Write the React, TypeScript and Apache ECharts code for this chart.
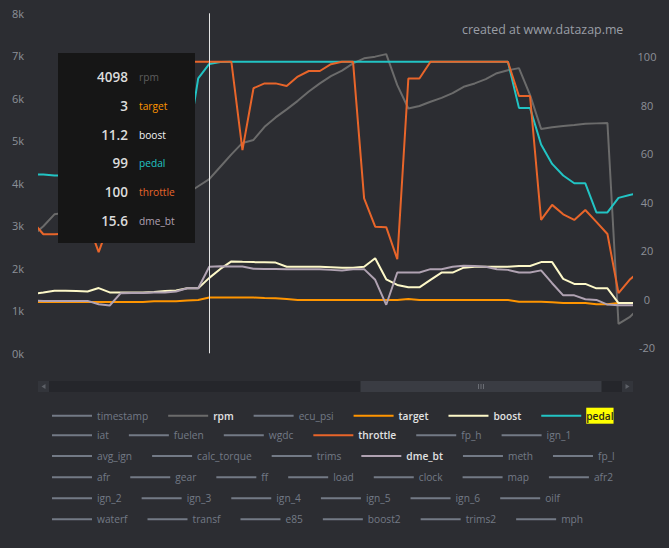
import React, { useEffect, useRef } from "react";
import * as echarts from "echarts";

// ---------- data ----------
const sampleIndex = [
  0, 1, 2, 3, 4, 5, 6, 7, 8, 9, 10, 11, 12, 13, 14, 15, 16, 17, 18, 19,
  20, 21, 22, 23, 24, 25, 26, 27, 28, 29, 30, 31, 32, 33, 34, 35, 36, 37, 38, 39,
  40, 41, 42, 43, 44, 45, 46, 47, 48, 49, 50, 51, 52, 53, 54, 55,
];

const rpm = [
  2765, 2990, 3270, 3310, 3370, 3400, 3450, 3480, 3530, 3570, 3600, 3640, 3690, 3720, 3760, 3930,
  4098, 4390, 4680, 4950, 5020, 5330, 5550, 5740, 5940, 6160, 6350, 6520, 6650, 6820, 6940, 6980,
  7040, 6310, 5760, 5820, 5920, 6010, 6120, 6270, 6350, 6450, 6590, 6660, 6710, 6080, 5280, 5320,
  5350, 5370, 5400, 5410, 5420, 690, 850, 1100,
];

const target = [
  -1.1, -1.1, -1.1, -1.1, -1.1, -1.1, -1.1, -1.1, -1.1, -1.1, -1.1, -0.8, -0.8, -0.8, -0.5, -0.3,
  0.7, 0.7, 0.7, 0.7, 0.7, 0.5, 0.4, 0.1, -0.3, -0.3, -0.3, -0.3, -0.3, -0.3, -0.3, -0.3,
  -0.3, -0.3, 0.1, -0.3, -0.3, -0.3, -0.3, -0.3, -0.3, -0.3, -0.3, -0.3, -1.0, -1.0, -1.0, -1.3,
  -1.6, -1.6, -1.6, -2.1, -2.1, -1.6, -1.6, -1.6,
];

const boost = [
  2.2, 2.8, 3.5, 3.5, 3.4, 3.2, 4.6, 2.8, 2.8, 2.8, 2.8, 3.0, 3.4, 3.6, 4.5, 4.5,
  8.8, 12.5, 15.6, 15.4, 15.3, 15.2, 15.1, 13.4, 13.4, 13.4, 13.4, 13.2, 13.0, 13.0, 13.4, 16.9,
  8.2, 5.9, 4.9, 4.9, 8.0, 11.0, 11.0, 13.0, 13.4, 13.4, 13.4, 13.4, 13.7, 13.7, 15.3, 15.3,
  8.4, 6.3, 6.3, 4.5, 4.5, -1.6, -1.6, -1.6,
];

const pedal = [
  51.5, 51.4, 51.0, 51.0, 51.2, 51.0, 51.1, 51.5, 52.0, 52.5, 53.0, 54.0, 56.0, 58.0, 62.5, 91.1,
  97.0, 97.8, 97.9, 97.9, 97.9, 97.9, 97.9, 97.9, 97.9, 97.9, 97.9, 97.9, 97.9, 97.9, 97.9, 97.9,
  97.9, 97.9, 97.9, 97.9, 97.9, 97.9, 97.9, 97.9, 97.9, 97.9, 97.9, 97.9, 78.9, 78.9, 63.8, 55.8,
  51.0, 47.8, 47.8, 35.8, 35.8, 41.8, 43.0, 43.8,
];

const throttle = [
  32.0, 26.8, 26.8, 27.0, 28.0, 32.0, 19.4, 32.0, 58.0, 85.0, 97.9, 97.9, 97.9, 97.9, 97.9, 97.9,
  97.9, 97.9, 97.9, 61.5, 87.0, 89.0, 89.0, 87.9, 91.8, 94.1, 94.1, 96.9, 97.9, 97.9, 41.6, 29.9,
  29.7, 16.5, 91.0, 91.0, 97.9, 97.9, 97.9, 97.9, 97.9, 97.9, 97.9, 97.9, 83.8, 83.8, 32.7, 38.9,
  35.0, 32.7, 36.8, 31.9, 26.9, 2.5, 8.0, 12.0,
];

const dmeBt = [
  -0.5, -0.7, -0.7, -0.7, -0.7, -0.7, -2.1, -2.6, 2.5, 2.6, 2.6, 2.8, 2.8, 3.2, 4.5, 4.5,
  13.4, 13.6, 13.5, 13.5, 12.6, 12.5, 12.5, 12.4, 12.4, 12.4, 12.4, 12.1, 11.8, 12.4, 12.4, 8.0,
  -2.3, 11.0, 11.0, 11.0, 12.4, 12.4, 13.4, 13.8, 13.7, 13.4, 12.4, 12.1, 11.0, 11.0, 11.9, 6.6,
  1.6, 1.6, 0.0, -0.3, -2.2, -2.5, -2.5, -2.5,
];

// visible window of the log (in samples) and the hovered sample
const windowStart = 0.606;
const windowEnd = 54.22;
const cursorIndex = 16;

const tooltipValues = ["4098", "3", "11.2", "99", "100", "15.6"];
const tooltipNames = ["rpm", "target", "boost", "pedal", "throttle", "dme_bt"];

const rpmTicks = [0, 1000, 2000, 3000, 4000, 5000, 6000, 7000, 8000];

const legendRows = [
  ["timestamp", "rpm", "ecu_psi", "target", "boost", "pedal"],
  ["iat", "fuelen", "wgdc", "throttle", "fp_h", "ign_1"],
  ["avg_ign", "calc_torque", "trims", "dme_bt", "meth", "fp_l"],
  ["afr", "gear", "ff", "load", "clock", "map", "afr2"],
  ["ign_2", "ign_3", "ign_4", "ign_5", "ign_6", "oilf"],
  ["waterf", "transf", "e85", "boost2", "trims2", "mph"],
];

// ---------- styling ----------
const BG = "#2c2d32";
const FONT = "'Open Sans', 'Noto Sans', sans-serif";
const colors: Record<string, string> = {
  rpm: "#6b6b6b",
  target: "#ff9500",
  boost: "#fdf8c8",
  pedal: "#22c4c4",
  throttle: "#e8652a",
  dme_bt: "#b0a2b2",
};
const activeData: Record<string, number[]> = {
  rpm,
  target,
  boost,
  pedal,
  throttle,
  dme_bt: dmeBt,
};

export default function App() {
  const ref = useRef<HTMLDivElement>(null);

  useEffect(() => {
    if (!ref.current) return;
    const chart = echarts.init(ref.current, null, { renderer: "svg" });

    const allNames = legendRows.flat();
    const selected: Record<string, boolean> = {};
    allNames.forEach((n) => (selected[n] = !!activeData[n]));

    const series: any[] = allNames.map((name) => {
      const vals = activeData[name];
      const s: any = {
        name,
        type: "line",
        yAxisIndex: name === "rpm" ? 0 : 1,
        showSymbol: false,
        symbol: "none",
        z: 2,
        color: colors[name] || "#747b86",
        lineStyle: { width: 2 },
        data: vals ? sampleIndex.map((t, k) => [t, vals[k]]) : [],
      };
      if (name === "rpm") {
        s.markLine = {
          silent: true,
          symbol: ["none", "none"],
          label: { show: false },
          lineStyle: { color: "#e4e4e4", width: 1, type: "solid" },
          data: [{ xAxis: sampleIndex[cursorIndex] }],
        };
      }
      return s;
    });

    const rowCenters = [414.7, 435.3, 456, 477.3, 498.3, 519.3];
    const legends = legendRows.map((row, r) => ({
      left: 52,
      top: rowCenters[r] - 7,
      padding: 0,
      itemGap: 20,
      itemWidth: 40,
      itemHeight: 2,
      icon: "rect",
      selected,
      inactiveColor: "#737a86",
      textStyle: {
        color: "#e2e2e2",
        fontFamily: FONT,
        fontSize: 10.2,
        lineHeight: 14,
      },
      data: row.map((name) => {
        if (name === "pedal") {
          return {
            name,
            textStyle: {
              color: "#2a2a1a",
              fontWeight: 600,
              backgroundColor: "#ffff00",
              padding: [1, 0, 1, 0],
            },
          };
        }
        if (activeData[name]) {
          return { name, textStyle: { fontWeight: 600, color: "#e2e2e2" } };
        }
        return { name };
      }),
    }));

    const Z = 100;
    const tipTop = 53;
    const tipRow = 28.9;
    const tipChildren: any[] = [
      {
        type: "rect",
        z: Z,
        shape: { x: 58, y: tipTop, width: 137, height: 190 },
        style: { fill: "#161616" },
      },
    ];
    tooltipNames.forEach((n, k) => {
      const cy = 76.7 + k * tipRow;
      tipChildren.push({
        type: "text",
        z: Z + 1,
        x: 128,
        y: cy,
        style: {
          text: tooltipValues[k],
          fill: "#dcdcdc",
          font: `600 13.5px ${FONT}`,
          textAlign: "right",
          textVerticalAlign: "middle",
        },
      });
      tipChildren.push({
        type: "text",
        z: Z + 1,
        x: 139,
        y: cy,
        style: {
          text: n,
          fill: n === "rpm" ? "#5e5e5e" : n === "boost" ? "#f4f4f4" : colors[n],
          font: `10.2px ${FONT}`,
          textAlign: "left",
          textVerticalAlign: "middle",
        },
      });
    });

    const sy = 381;
    const sh = 11;
    const sliderChildren: any[] = [
      { type: "rect", z: 60, shape: { x: 38, y: sy, width: 595, height: sh }, style: { fill: "#25262b" } },
      { type: "rect", z: 61, shape: { x: 38, y: sy, width: 11, height: sh }, style: { fill: "#33353b" } },
      { type: "rect", z: 61, shape: { x: 622, y: sy, width: 11, height: sh }, style: { fill: "#33353b" } },
      {
        type: "polygon",
        z: 62,
        shape: { points: [[45.5, sy + 3], [45.5, sy + 8], [41.5, sy + 5.5]] },
        style: { fill: "#5d6067" },
      },
      {
        type: "polygon",
        z: 62,
        shape: { points: [[625.5, sy + 3], [625.5, sy + 8], [629.5, sy + 5.5]] },
        style: { fill: "#5d6067" },
      },
      { type: "rect", z: 61, shape: { x: 360.5, y: sy, width: 241, height: sh }, style: { fill: "#3a3c43" } },
    ];
    [478.5, 481, 483.5].forEach((gx) =>
      sliderChildren.push({
        type: "line",
        z: 62,
        shape: { x1: gx, y1: sy + 3, x2: gx, y2: sy + 8 },
        style: { stroke: "#6a6d74", lineWidth: 1 },
      })
    );

    const option: any = {
      animation: false,
      backgroundColor: BG,
      textStyle: { fontFamily: FONT },
      grid: { left: 39, right: 37, top: 13.3, bottom: 194.7, containLabel: false },
      xAxis: {
        type: "value",
        min: windowStart,
        max: windowEnd,
        show: false,
      },
      yAxis: [
        {
          type: "value",
          position: "left",
          min: rpmTicks[0],
          max: rpmTicks[rpmTicks.length - 1],
          interval: rpmTicks[1] - rpmTicks[0],
          axisLine: { show: false },
          axisTick: { show: false },
          splitLine: { show: false },
          axisLabel: {
            color: "#8c9098",
            fontFamily: FONT,
            fontSize: 11,
            margin: 15,
            formatter: (v: number) => `${Math.round(v / 1000)}k`,
          },
        },
        {
          type: "value",
          position: "right",
          min: -22.3,
          max: 117.9,
          splitNumber: 7,
          minInterval: 20,
          maxInterval: 20,
          axisLine: { show: false },
          axisTick: { show: false },
          splitLine: { show: false },
          axisLabel: {
            color: "#8c9098",
            fontFamily: FONT,
            fontSize: 11,
            margin: 15,
            align: "center",
            showMinLabel: false,
            showMaxLabel: false,
          },
        },
      ],
      legend: legends,
      series,
      graphic: [
        {
          type: "text",
          x: 462,
          y: 29,
          style: {
            text: "created at www.datazap.me",
            fill: "#9a9ea6",
            font: `12.4px ${FONT}`,
            textVerticalAlign: "middle",
          },
        },
        { type: "group", children: tipChildren },
        { type: "group", children: sliderChildren },
      ],
    };

    chart.setOption(option);
    return () => chart.dispose();
  }, []);

  return (
    <div
      ref={ref}
      style={{ position: "fixed", left: 0, top: 0, width: 669, height: 548, background: BG }}
    />
  );
}
